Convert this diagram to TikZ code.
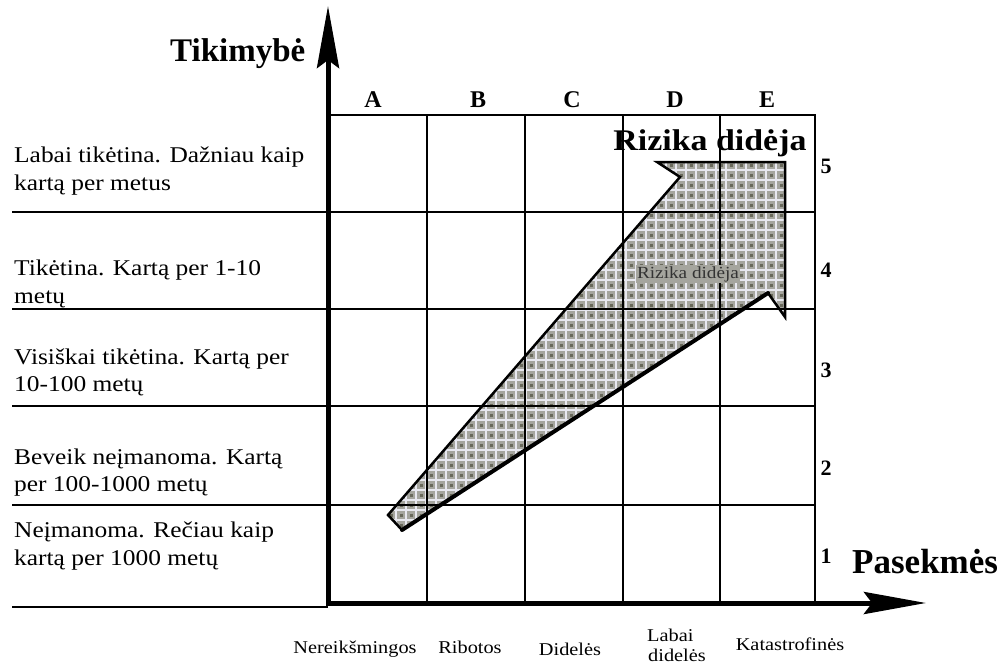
\documentclass[tikz,border=0pt]{standalone}
\usepackage{fontspec}
\setmainfont{Liberation Serif}
\newfontfamily\lblfont[FakeStretch=1.13]{Liberation Serif}
\usetikzlibrary{arrows.meta}
\definecolor{wedgebase}{RGB}{165,165,158}
\definecolor{wedgelight}{RGB}{232,232,240}
\definecolor{wedgedark}{RGB}{105,105,92}
\begin{document}
\begin{tikzpicture}[x=1pt,y=-1pt,
  gridline/.style={line width=2pt, black},
  axis/.style={line width=5pt, black},
  rowlbl/.style={font=\lblfont\fontsize{22.5}{26}\selectfont, anchor=base west, inner sep=0pt},
  collbl/.style={font=\lblfont\fontsize{18}{21}\selectfont, anchor=base, inner sep=0pt},
  hdr/.style={font=\bfseries\fontsize{24}{26}\selectfont, anchor=base, inner sep=0pt},
  num/.style={font=\bfseries\fontsize{22}{24}\selectfont, anchor=base, inner sep=0pt},
  axlbl/.style={font=\bfseries\fontsize{33}{38}\selectfont, anchor=base west, inner sep=0pt}]
\useasboundingbox (0,0) rectangle (1008,666);
\fill[white] (0,0) rectangle (1008,666);

% wedge fill
\def\wedgepath{(388,515) -- (680,177) -- (657,162) -- (785,162) -- (785,317) -- (768,293) -- (402,530) -- cycle}
\fill[wedgebase] \wedgepath;
\begin{scope}
  \clip \wedgepath;
  \foreach \x in {391,401,...,791} \draw[wedgedark, line width=3pt, dash pattern=on 3pt off 7pt, dash phase=-3.5pt] (\x,150) -- (\x,540);
  \foreach \x in {386,396,...,796} \draw[wedgelight, line width=2.6pt] (\x,150) -- (\x,540);
  \foreach \y in {160,170,...,540} \draw[wedgelight, line width=2.6pt] (380,\y) -- (800,\y);
\end{scope}

% grid
\draw[gridline] (328,115) -- (815,115) -- (815,603);
\foreach \x in {427,525,623,720} \draw[gridline] (\x,115) -- (\x,603);
\foreach \y in {212,309,406,505} \draw[gridline] (12,\y) -- (815,\y);
\draw[gridline] (12,607) -- (328,607);

% wedge outline
\draw[line width=2.5pt, line join=miter] (402,530) -- (388,515) -- (680,177) -- (657,162) -- (785,162) -- (785,317) -- (768,293);
\draw[line width=4pt, line cap=round] (768,293) -- (402,530);

% axes
\coordinate (O) at (328,606);
\coordinate (ytip) at (328,6);
\coordinate (xorig) at (326,603);
\coordinate (xtip) at (926,603);
\draw[axis, -{Stealth[length=62pt, width=22pt, inset=8pt]}] (O) -- (ytip);
\draw[axis, -{Stealth[length=62pt, width=22pt, inset=8pt]}] (xorig) -- (xtip);

% risk labels
\node[font=\lblfont\fontsize{17}{20}\selectfont, text=black!80, fill=wedgebase, inner sep=1pt, anchor=base] (smallrisk) at (688,278) {Rizika didėja};
\node[font=\lblfont\bfseries\fontsize{30}{34}\selectfont, anchor=base, inner sep=0pt] (bigrisk) at (710,150) {Rizika didėja};

% axis labels
\node[axlbl] (ylbl) at (170,62) {Tikimybė};
\node[axlbl, font=\bfseries\fontsize{35}{38}\selectfont] (xlbl) at (852,573) {Pasekmės};

% column headers
\node[hdr] (hA) at (373,108) {A};
\node[hdr] (hB) at (478,108) {B};
\node[hdr] (hC) at (572,108) {C};
\node[hdr] (hD) at (675,108) {D};
\node[hdr] (hE) at (767,108) {E};

% row numbers
\node[num] (n5) at (826,173) {5};
\node[num] (n4) at (826,277) {4};
\node[num] (n3) at (826,377) {3};
\node[num] (n2) at (826,475) {2};
\node[num] (n1) at (826,563) {1};

% row labels
\node[rowlbl] (r1a) at (14,162) {Labai tikėtina. Dažniau kaip};
\node[rowlbl] (r1b) at (14,190) {kartą per metus};
\node[rowlbl] (r2a) at (14,275) {Tikėtina. Kartą per 1-10};
\node[rowlbl] (r2b) at (14,303) {metų};
\node[rowlbl] (r3a) at (14,364) {Visiškai tikėtina. Kartą per};
\node[rowlbl] (r3b) at (14,391) {10-100 metų};
\node[rowlbl] (r4a) at (14,464) {Beveik neįmanoma. Kartą};
\node[rowlbl] (r4b) at (14,491) {per 100-1000 metų};
\node[rowlbl] (r5a) at (14,537) {Neįmanoma. Rečiau kaip};
\node[rowlbl] (r5b) at (14,565) {kartą per 1000 metų};

% column labels
\node[collbl] (c1) at (355,653) {Nereikšmingos};
\node[collbl] (c2) at (470,653) {Ribotos};
\node[collbl] (c3) at (570,655) {Didelės};
\node[collbl, anchor=base west] (c4a) at (647,641) {Labai};
\node[collbl, anchor=base west] (c4b) at (648,661) {didelės};
\node[collbl] (c5) at (790,650) {Katastrofinės};
\end{tikzpicture}
\end{document}
